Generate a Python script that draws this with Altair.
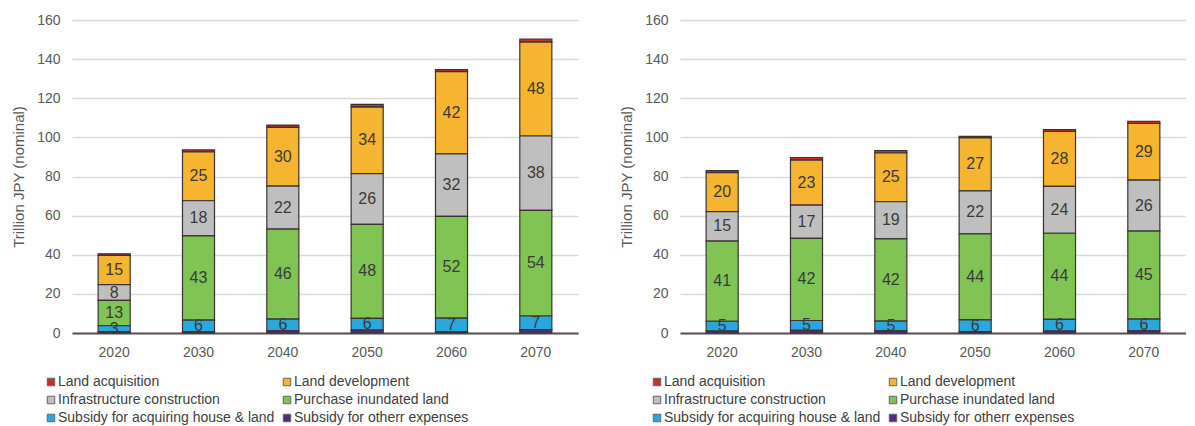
import altair as alt
import pandas as pd

years = ["2020", "2030", "2040", "2050", "2060", "2070"]

series = [
    "Land acquisition",
    "Land development",
    "Infrastructure construction",
    "Purchase inundated land",
    "Subsidy for acquiring house & land",
    "Subsidy for otherr expenses",
]
colors = ["#c8302a", "#f6b530", "#bfbfbf", "#80c453", "#2aa7df", "#4e2c86"]
# stacking order from bottom (0) to top (5)
stack_order = [5, 4, 3, 2, 1, 0]
labelled = [False, True, True, True, True, False]

# Left panel values (trillion JPY)
left_land_acq = [0.8, 1.0, 1.2, 1.4, 1.0, 1.6]
left_land_dev = [15, 25, 30, 34, 42, 48]
left_infra = [8, 18, 22, 26, 32, 38]
left_purchase = [13, 43, 46, 48, 52, 54]
left_subsidy_house = [3, 6, 6, 6, 7, 7]
left_subsidy_other = [0.7, 0.6, 1.1, 1.5, 0.6, 1.7]

# Right panel values (trillion JPY)
right_land_acq = [1.0, 1.3, 1.2, 0.8, 1.0, 1.1]
right_land_dev = [20, 23, 25, 27, 28, 29]
right_infra = [15, 17, 19, 22, 24, 26]
right_purchase = [41, 42, 42, 44, 44, 45]
right_subsidy_house = [5, 5, 5, 6, 6, 6]
right_subsidy_other = [1.0, 1.4, 1.1, 0.7, 1.0, 1.1]

y_ticks = [0, 20, 40, 60, 80, 100, 120, 140, 160]


def build_df(cols):
    rows = []
    for s_i, name in enumerate(series):
        for y_i, yr in enumerate(years):
            rows.append({
                "year": yr,
                "series": name,
                "value": cols[s_i][y_i],
                "order": stack_order[s_i],
                "show": labelled[s_i],
            })
    return pd.DataFrame(rows)


left_df = build_df([left_land_acq, left_land_dev, left_infra,
                    left_purchase, left_subsidy_house, left_subsidy_other])
right_df = build_df([right_land_acq, right_land_dev, right_infra,
                     right_purchase, right_subsidy_house, right_subsidy_other])

FONT = "Liberation Sans"


def panel(df, legend_x):
    base = alt.Chart(df).transform_stack(
        stack="value", groupby=["year"], sort=[{"field": "order", "order": "ascending"}],
        as_=["y0", "y1"]
    ).transform_calculate(mid="(datum.y0 + datum.y1) / 2")

    x_scale = alt.Scale(paddingInner=0.62, paddingOuter=0.31)
    y_scale = alt.Scale(domain=[0, 160])

    x_axis = alt.Axis(
        labelAngle=0, ticks=False, domainColor="#5a5050", domainWidth=2,
        labelFont=FONT, labelFontSize=14, labelColor="#595959", labelPadding=12,
        grid=False,
    )
    y_axis = alt.Axis(
        values=y_ticks, labelOverlap=False,
        title="Trillion JPY (nominal)", titleFont=FONT, titleFontSize=15,
        titleFontWeight="normal", titleColor="#595959", titlePadding=10,
        labelFont=FONT, labelFontSize=14, labelColor="#595959", labelPadding=12,
        ticks=False, domain=False, gridColor="#d9d9d9", gridWidth=1.5,
    )

    bars = base.mark_bar(stroke="#3d3232", strokeWidth=1.2).encode(
        x=alt.X("year:N", sort=years, title=None, scale=x_scale, axis=x_axis),
        y=alt.Y("y0:Q", scale=y_scale, axis=y_axis),
        y2="y1:Q",
        color=alt.Color(
            "series:N",
            scale=alt.Scale(domain=series, range=colors),
            legend=alt.Legend(
                title=None, orient="none", legendX=legend_x, legendY=355,
                direction="horizontal",
                columns=2, columnPadding=5, rowPadding=4,
                symbolType="square", symbolSize=56, symbolStrokeColor="#666666",
                symbolStrokeWidth=1, labelFont=FONT, labelFontSize=14,
                labelColor="#404040", labelOffset=0, labelLimit=400,
            ),
        ),
    )

    labels = base.transform_filter("datum.show").mark_text(
        font=FONT, fontSize=16, color="#3a3a3a", baseline="middle", align="center"
    ).encode(
        x=alt.X("year:N", sort=years, title=None, scale=x_scale, axis=x_axis),
        y=alt.Y("mid:Q", scale=y_scale, axis=y_axis),
        text=alt.Text("value:Q", format="d"),
    )

    return alt.layer(bars, labels).properties(width=506, height=313)


left = panel(left_df, -28)
right = panel(right_df, -30)

chart = alt.hconcat(left, right, spacing=41).resolve_scale(color="independent").properties(
    padding={"left": 3, "top": 5, "right": 0, "bottom": 0},
    background="white",
).configure_view(stroke=None)

chart.save("out.html", embed_options={"renderer": "svg", "actions": False})
